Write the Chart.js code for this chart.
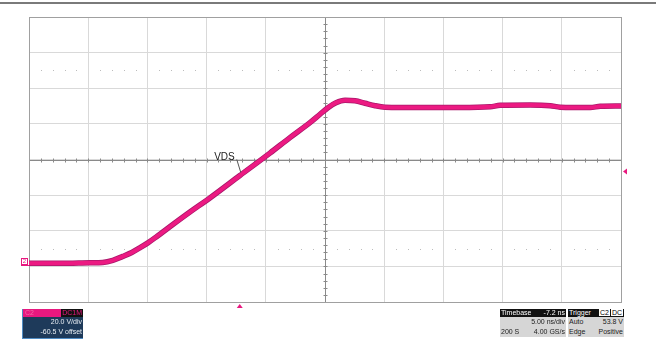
<!DOCTYPE html>
<html>
<head>
<meta charset="utf-8">
<script src="https://cdn.jsdelivr.net/npm/chart.js@4"></script>
<style>
  body { margin: 0; background: #fff; }
  #wrap { position: relative; width: 656px; height: 339px; overflow: hidden; font-family: "Liberation Sans", Arial, sans-serif; }
  #topline { position: absolute; left: 0; top: 2px; width: 656px; height: 2px; background: #7a7a7a; }
  .panel { position: absolute; font-size: 7px; line-height: 9.5px; }
  .hd { height: 8px; line-height: 8px; display: flex; justify-content: space-between; padding: 0 1px; }
  .row { display: flex; justify-content: space-between; padding: 0 1px; height: 10px; line-height: 10px; }
  .box { background: #fff; color: #000; padding: 0 1px; margin-left: 1px; }
</style>
</head>
<body>
<div id="wrap">
  <div id="topline"></div>
  <canvas id="scope" width="656" height="339"></canvas>

  <div class="panel" style="left:22px;top:309px;width:60px;height:29px;background:#1e3a5a;border-left:1px solid #4f8cc4;border-bottom:1px solid #4f8cc4;color:#e8eef4;">
    <div class="hd" style="background:#e8187f;padding:0 0 0 2px;">
      <span style="color:#f06aa8">C2</span><span style="background:#111;color:#e8187f;padding:0 1px;">DC1M</span>
    </div>
    <div class="row" style="justify-content:flex-end;">20.0 V/div</div>
    <div class="row" style="justify-content:flex-end;">-60.5 V offset</div>
  </div>

  <div class="panel" style="left:500px;top:309px;width:66px;height:28px;background:#d6d6d6;color:#222;">
    <div class="hd" style="background:#111;color:#fff;"><span>Timebase</span><span>-7.2 ns</span></div>
    <div class="row" style="justify-content:flex-end;">5.00 ns/div</div>
    <div class="row"><span>200 S</span><span>4.00 GS/s</span></div>
  </div>

  <div class="panel" style="left:568px;top:309px;width:56px;height:28px;background:#d6d6d6;color:#222;">
    <div class="hd" style="background:#111;color:#fff;"><span>Trigger</span><span><span class="box">C2</span><span class="box">DC</span></span></div>
    <div class="row"><span>Auto</span><span>53.8 V</span></div>
    <div class="row"><span>Edge</span><span>Positive</span></div>
  </div>
</div>

<script>
// time axis in ns, voltage in V (20 V/div, centre = 60.5 V)
const timeNs = [-17.8, -15.2, -12.66, -11.57, -10.72, -9.88, -9.12, -8.44, -7.76, -7.0, -5.65, -4.21, -2.52, 0.01,
  2.55, 4.24, 5.93, 6.78, 7.45, 8.13, 8.89, 9.74, 10.58, 11.43, 12.27, 15.23, 18.61, 21.15, 21.99, 24.53, 26.22,
  27.06, 29.6, 30.45, 32.2];
const vds = [2.2, 2.2, 2.5, 2.7, 3.9, 6.1, 8.3, 10.9, 13.7, 17.3, 24.0, 31.0, 38.9, 51.5,
  64.1, 72.8, 81.2, 85.9, 89.6, 92.4, 93.8, 93.5, 92.1, 90.7, 89.9, 89.7, 89.7, 90.1, 90.9, 91.1, 90.7,
  89.9, 89.7, 90.4, 90.6];

const timeGrid = [-17.8, -12.8, -7.8, -2.8, 2.2, 7.2, 12.2, 17.2, 22.2, 27.2, 32.2];
const voltGrid = [-19.5, 0.5, 20.5, 40.5, 60.5, 80.5, 100.5, 120.5, 140.5];
const dottedLevels = [10.5, 110.5];
const triggerLevel = 53.8;
const triggerTime = 0;
const groundLevel = 3;

const pts = timeNs.map((t, i) => ({ x: t, y: vds[i] }));

const scopeDecor = {
  id: 'scopeDecor',
  beforeDatasetsDraw(chart) {
    const { ctx, chartArea: a, scales: { x, y } } = chart;
    const cx = Math.round(x.getPixelForValue(7.2)) + 0.5;
    const cy = Math.round(y.getPixelForValue(60.5)) + 0.5;
    const dx = (x.getPixelForValue(timeGrid[1]) - x.getPixelForValue(timeGrid[0])) / 5;
    const dy = (y.getPixelForValue(voltGrid[0]) - y.getPixelForValue(voltGrid[1])) / 5;
    ctx.save();
    // dotted rows
    ctx.fillStyle = '#bcbcbc';
    dottedLevels.forEach(v => {
      const py = Math.round(y.getPixelForValue(v));
      for (let i = 1; i < 50; i++) {
        if (i % 5 === 0) continue;
        ctx.fillRect(Math.round(a.left + i * dx), py, 1, 1);
      }
    });
    // centre cross
    ctx.strokeStyle = '#8a8a8a';
    ctx.lineWidth = 1;
    ctx.beginPath();
    ctx.moveTo(a.left, cy); ctx.lineTo(a.right, cy);
    ctx.moveTo(cx, a.top); ctx.lineTo(cx, a.bottom);
    for (let i = 1; i < 50; i++) {
      const px = Math.round(a.left + i * dx) + 0.5;
      ctx.moveTo(px, cy - 2); ctx.lineTo(px, cy + 2);
    }
    for (let i = 1; i < 40; i++) {
      const py = Math.round(a.top + i * dy) + 0.5;
      ctx.moveTo(cx - 2, py); ctx.lineTo(cx + 2, py);
    }
    ctx.stroke();
    // border
    ctx.strokeStyle = '#a0a0a0';
    ctx.strokeRect(Math.round(a.left) + 0.5, Math.round(a.top) + 0.5, Math.round(a.right - a.left), Math.round(a.bottom - a.top));
    ctx.restore();
  },
  afterDatasetsDraw(chart) {
    const { ctx, chartArea: a, scales: { x, y } } = chart;
    ctx.save();
    ctx.fillStyle = '#e8187f';
    // trigger time marker
    const tx = x.getPixelForValue(triggerTime);
    ctx.beginPath();
    ctx.moveTo(tx, a.bottom + 2); ctx.lineTo(tx - 3, a.bottom + 6); ctx.lineTo(tx + 3, a.bottom + 6);
    ctx.fill();
    // trigger level marker
    const ty = y.getPixelForValue(triggerLevel);
    ctx.beginPath();
    ctx.moveTo(a.right + 2, ty); ctx.lineTo(a.right + 6, ty - 3); ctx.lineTo(a.right + 6, ty + 3);
    ctx.fill();
    // ground marker
    const gy = Math.round(y.getPixelForValue(groundLevel));
    ctx.strokeStyle = '#e8187f';
    ctx.fillStyle = '#fff';
    ctx.fillRect(a.left - 7.5, gy - 3.5, 6, 6);
    ctx.strokeRect(a.left - 7.5, gy - 3.5, 6, 6);
    ctx.fillStyle = '#e8187f';
    ctx.font = '6px "Liberation Sans", Arial';
    ctx.textAlign = 'center';
    ctx.textBaseline = 'middle';
    ctx.fillText('2', a.left - 4.5, gy - 0.5);
    ctx.fillRect(a.left - 8, gy + 3, 8, 1);
    // VDS label
    const lx = x.getPixelForValue(0), ly = y.getPixelForValue(triggerLevel);
    ctx.fillStyle = '#222';
    ctx.font = '10px "Liberation Sans", Arial';
    ctx.textAlign = 'right';
    ctx.textBaseline = 'alphabetic';
    ctx.fillText('VDS', lx - 5, ly - 11);
    ctx.strokeStyle = '#555';
    ctx.beginPath();
    ctx.moveTo(lx - 3, ly - 12); ctx.lineTo(lx + 1, ly + 1);
    ctx.stroke();
    ctx.restore();
  }
};

new Chart(document.getElementById('scope'), {
  type: 'line',
  data: {
    datasets: [
      { data: pts, borderColor: '#ec1a82', borderWidth: 4, pointRadius: 0, cubicInterpolationMode: 'monotone', order: 1 },
      { data: pts, borderColor: '#a8186a', borderWidth: 5.5, pointRadius: 0, cubicInterpolationMode: 'monotone', order: 2 }
    ]
  },
  options: {
    responsive: false,
    devicePixelRatio: 1,
    animation: false,
    layout: { padding: { left: 29, right: 35, top: 17, bottom: 37 } },
    plugins: { legend: { display: false }, tooltip: { enabled: false } },
    scales: {
      x: {
        type: 'linear', min: timeGrid[0], max: timeGrid[timeGrid.length - 1],
        afterBuildTicks: s => { s.ticks = timeGrid.map(v => ({ value: v })); },
        ticks: { display: false },
        grid: { color: '#d9d9d9', drawTicks: false },
        border: { display: false }
      },
      y: {
        min: voltGrid[0], max: voltGrid[voltGrid.length - 1],
        afterBuildTicks: s => { s.ticks = voltGrid.map(v => ({ value: v })); },
        ticks: { display: false },
        grid: { color: '#d9d9d9', drawTicks: false },
        border: { display: false }
      }
    }
  },
  plugins: [scopeDecor]
});
</script>
</body>
</html>
